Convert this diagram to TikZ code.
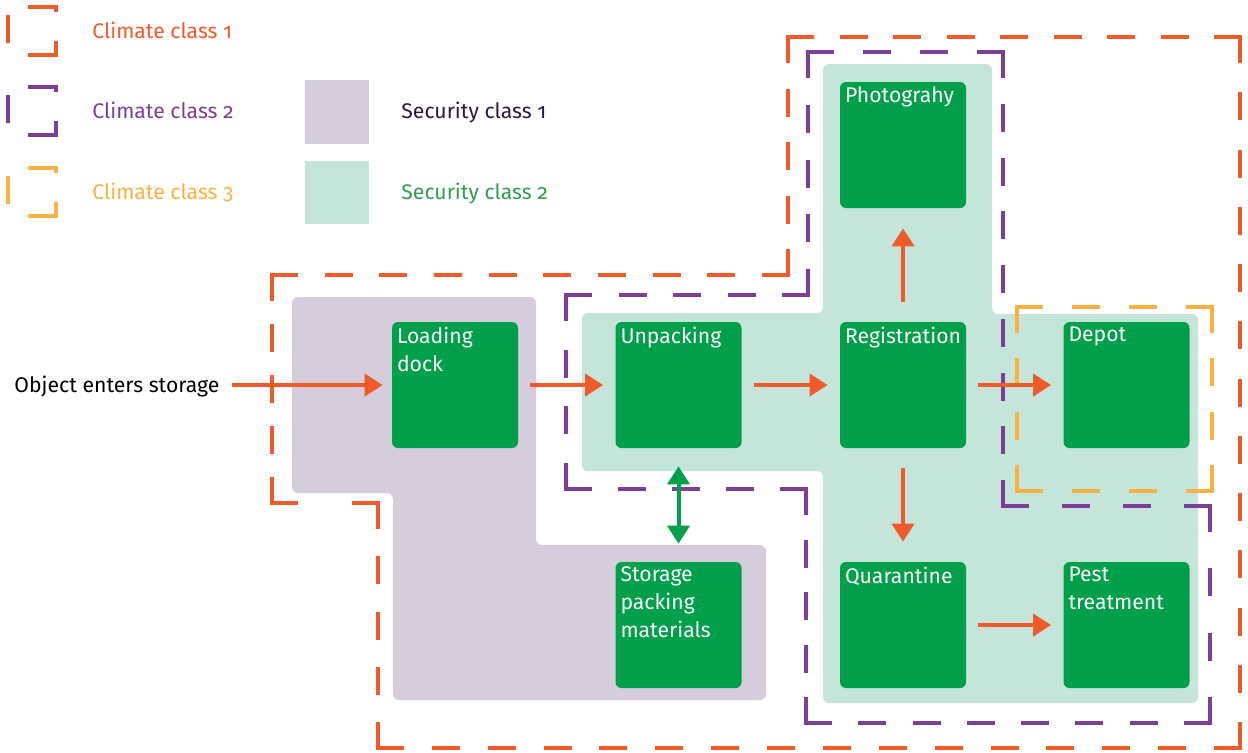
\documentclass[tikz,border=0pt]{standalone}
\usepackage{fontspec}
\setmainfont{Fira Sans}[Numbers=OldStyle]
\usetikzlibrary{arrows.meta}
\definecolor{climA}{HTML}{F15A29}
\definecolor{climB}{HTML}{7B3F98}
\definecolor{climC}{HTML}{FBB040}
\definecolor{secA}{HTML}{D5CDDB}
\definecolor{secB}{HTML}{C5E5DA}
\definecolor{roomgreen}{HTML}{00A04B}
\definecolor{sectxtA}{HTML}{2B1B3B}
\definecolor{sectxtB}{HTML}{2E9E50}
\tikzset{>={Triangle[length=9pt,width=11pt]}}
\tikzset{
  room/.style={fill=roomgreen, rounded corners=3pt, minimum width=63pt,
    minimum height=63pt, inner sep=0pt, label={[roomtext]north west:#1}},
  roomtext/.style={anchor=north west, inner sep=2.5pt, text=white, align=left,
    font=\fontsize{10.6pt}{13.8pt}\selectfont},
  flow/.style={->, draw=climA, line width=2pt, shorten <=6pt, shorten >=6pt},
  swap/.style={<->, draw=roomgreen, line width=2pt, shorten <=9pt, shorten >=9pt},
  legtext/.style={anchor=base west, inner sep=0pt,
    font=\fontsize{10.6pt}{12pt}\selectfont}
}
% one side of a climate zone, dashes fitted so that both ends get a dash
\newcommand\zoneside[5]{%
  \pgfmathsetmacro\zlen{0.5*veclen(#4-#2,#5-#3)}%
  \pgfmathsetmacro\zn{max(2,round((\zlen+14)/28))}%
  \pgfmathsetmacro\zoff{(\zlen-12*\zn)/(\zn-1)}%
  \draw[#1, line width=2pt, line cap=rect, dash pattern=on 12pt off \zoff pt]
    (#2,#3) -- (#4,#5);}
\begin{document}
\begin{tikzpicture}[x=0.5pt, y=-0.5pt]
    \useasboundingbox (0,0) rectangle (1248,752);

    % security classes
    \fill[secA, rounded corners=3pt] (292,297) -- (536,297) -- (536,545) -- (766,545)
        -- (766,700) -- (393,700) -- (393,493) -- (292,493) -- cycle;
    \fill[secB, rounded corners=3pt] (823,64) -- (992,64) -- (992,314) -- (1198,314)
        -- (1198,703) -- (823,703) -- (823,471) -- (582,471) -- (582,313) -- (823,313) -- cycle;

    % climate classes
    \foreach \x/\y [remember=\x as \lx (initially 272), remember=\y as \ly (initially 503)]
        in {272/275, 788/275, 788/37, 1240/37, 1240/748, 378/748, 378/503, 272/503}
        {\zoneside{climA}{\lx}{\ly}{\x}{\y}}
    \foreach \x/\y [remember=\x as \lx (initially 566), remember=\y as \ly (initially 489)]
        in {566/295, 808/295, 808/52, 1003/52, 1003/506, 1210/506, 1210/723, 806/723, 806/489, 566/489}
        {\zoneside{climB}{\lx}{\ly}{\x}{\y}}
    \foreach \x/\y [remember=\x as \lx (initially 1017), remember=\y as \ly (initially 491)]
        in {1017/307, 1212/307, 1212/491, 1017/491}
        {\zoneside{climC}{\lx}{\ly}{\x}{\y}}

    % legend
    \foreach \clr/\yy/\txt [count=\i] in {climA/0/Climate class 1, climB/80/Climate class 2, climC/161/Climate class 3} {
        \draw[\clr, line width=2pt] (8,{15+\yy}) -- (8,{43+\yy})
            (28,{7+\yy}) -| (56,{12+\yy}) (28,{55+\yy}) -| (56,{41+\yy});
        \node[legtext, text=\clr] (clim\i) at (92,{38+\yy}) {\txt};
    }
    \fill[secA] (305,80) rectangle (369,144);
    \fill[secB] (305,161) rectangle (369,224);
    \node[legtext, text=sectxtA] (sec1) at (401,118) {Security class 1};
    \node[legtext, text=sectxtB] (sec2) at (401,199) {Security class 2};

    % rooms
    \node[room={Loading\\dock}] (load) at (455,385) {};
    \node[room=Unpacking] (unpack) at (678.5,385) {};
    \node[room=Registration] (reg) at (903,385) {};
    \node[room=Depot] (depot) at (1126.5,385) {};
    \node[room=Photograhy] (photo) at (903,145) {};
    \node[room=Quarantine] (quar) at (903,625) {};
    \node[room={Pest\\treatment}] (pest) at (1126.5,625) {};
    \node[room={Storage\\packing\\materials}] (store) at (678.5,625) {};

    \node[legtext] (entry) at (14,392) {Object enters storage};

    % routes
    \draw[flow, shorten >=4.5pt] (entry.east |- load) -- (load);
    \draw[flow] (load) -- (unpack);
    \draw[flow] (unpack) -- (reg);
    \draw[flow] (reg) -- (depot);
    \draw[flow, shorten <=10pt, shorten >=10pt] (reg) -- (photo);
    \draw[flow, shorten <=10pt, shorten >=10pt] (reg) -- (quar);
    \draw[flow] (quar) -- (pest);
    \draw[swap] (unpack) -- (store);
\end{tikzpicture}
\end{document}
